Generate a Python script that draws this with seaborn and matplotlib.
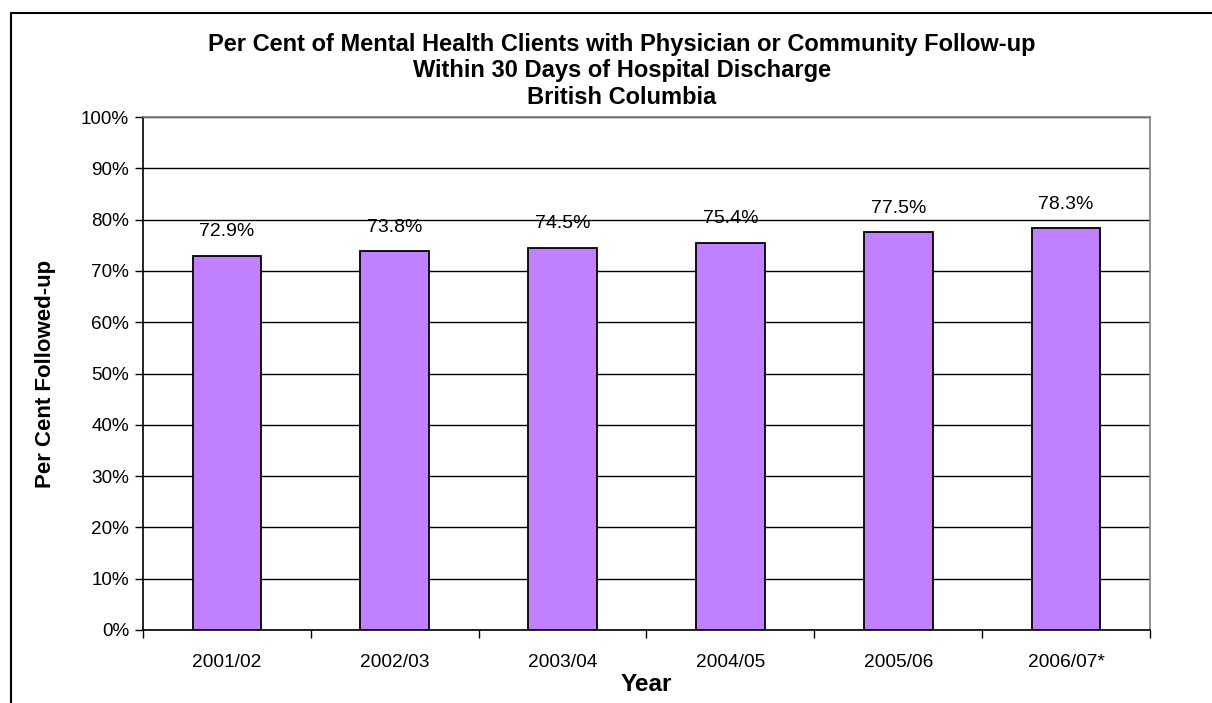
import matplotlib
matplotlib.use("Agg")
import matplotlib.pyplot as plt
from matplotlib.lines import Line2D
from matplotlib.ticker import FixedLocator, PercentFormatter
import seaborn as sns
import numpy as np
import pandas as pd

years = ["2001/02", "2002/03", "2003/04", "2004/05", "2005/06", "2006/07*"]
followed_up = [72.9, 73.8, 74.5, 75.4, 77.5, 78.3]

sns.set_style("white")
plt.rcParams['font.family'] = ['Liberation Sans', 'DejaVu Sans']
plt.rcParams.update({"text.color": "black", "axes.labelcolor": "black",
                     "xtick.color": "black", "ytick.color": "black"})

df = pd.DataFrame({"year": years, "pct": followed_up})

W, H = 1212, 703
fig = plt.figure(figsize=(W / 100, H / 100), dpi=100)
ax = fig.add_axes([143 / W, 1 - 630 / H, (1150 - 143) / W, (630 - 117) / H])

sns.barplot(data=df, x="year", y="pct", color="#C080FF", saturation=1,
            width=0.41, edgecolor="black", linewidth=1.3, ax=ax, zorder=3)

ax.set_ylim(0, 100)
ax.set_xlim(-0.5, len(years) - 0.5)
ax.set_yticks(np.arange(0, 101, 10))
ax.yaxis.set_major_formatter(PercentFormatter(decimals=0))
ax.yaxis.grid(True, color="black", linewidth=1)
ax.set_axisbelow(True)

# x ticks sit between categories, labels in the middle
ax.tick_params(axis="x", which="major", length=0, labelsize=13.8, pad=17)
ax.xaxis.set_minor_locator(FixedLocator(np.arange(-0.5, len(years), 1)))
ax.tick_params(axis="x", which="minor", length=6, width=1, direction="out", bottom=True)
ax.tick_params(axis="y", length=6, width=1, direction="out", left=True, labelsize=13.6, pad=4)

for side in ["left", "bottom"]:
    ax.spines[side].set_color("black")
    ax.spines[side].set_linewidth(1.2)
for side in ["top", "right"]:
    ax.spines[side].set_color("#808080")
    ax.spines[side].set_linewidth(1.2)

for i, v in enumerate(followed_up):
    ax.annotate(f"{v:.1f}%", (i, v), xytext=(0, 17.5), textcoords="offset points",
                ha="center", va="center", fontsize=14)

ax.set_xlabel("Year", fontsize=17.5, fontweight="bold", labelpad=2)
ax.set_ylabel("Per Cent Followed-up", fontsize=16, fontweight="bold", labelpad=18)

fig.text(622 / W, 1 - 71 / H,
         "Per Cent of Mental Health Clients with Physician or Community Follow-up\n"
         "Within 30 Days of Hospital Discharge\nBritish Columbia",
         ha="center", va="center", fontsize=17, fontweight="bold", linespacing=1.22)

# chart frame (top and left edges only are visible)
fig.add_artist(Line2D([11 / W, 1.0], [1 - 13 / H, 1 - 13 / H], color="black", linewidth=1.5))
fig.add_artist(Line2D([11 / W, 11 / W], [0, 1 - 13 / H], color="black", linewidth=1.5))

fig.savefig("out.png", dpi=100)
